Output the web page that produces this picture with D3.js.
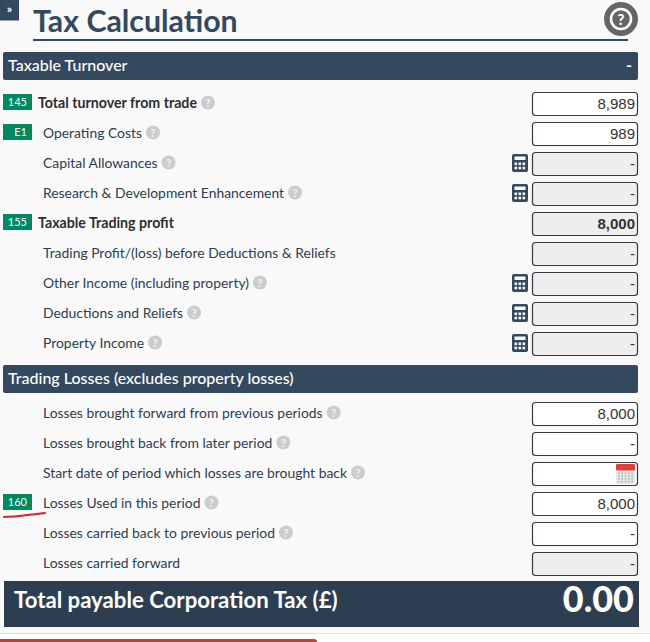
<!DOCTYPE html>
<html><head><meta charset="utf-8">
<script src="https://cdn.jsdelivr.net/npm/d3@7/dist/d3.min.js"></script>
<style>html,body{margin:0;padding:0;background:#fff;overflow:hidden}svg{display:block}text{font-family:Lato,sans-serif}</style>
</head><body><svg id="c" width="650" height="642"></svg>
<script>
const labels1=["Total turnover from trade","Operating Costs","Capital Allowances","Research & Development Enhancement","Taxable Trading profit","Trading Profit/(loss) before Deductions & Reliefs","Other Income (including property)","Deductions and Reliefs","Property Income"];
const codes1=["145","E1","","","155","","","",""];
const values1=["8,989","989","-","-","8,000","-","-","-","-"];
const disabled1=[0,0,1,1,1,1,1,1,1];
const bold1=[1,0,0,0,1,0,0,0,0];
const boldValue1=[0,0,0,0,1,0,0,0,0];
const help1=[1,1,1,1,0,0,1,1,1];
const calc1=[0,0,1,1,0,0,1,1,1];
const labels2=["Losses brought forward from previous periods","Losses brought back from later period","Start date of period which losses are brought back","Losses Used in this period","Losses carried back to previous period","Losses carried forward"];
const codes2=["","","","160","",""];
const values2=["8,000","-","","8,000","-","-"];
const disabled2=[0,0,0,0,0,1];
const help2=[1,1,1,1,1,0];
const total="0.00";

const svg=d3.select("#c");
const navy="#34495e",ink="#2c3e50";
svg.append("rect").attr("width",650).attr("height",633).attr("fill","#f9f9f9");
svg.append("rect").attr("y",633).attr("width",650).attr("height",1).attr("fill","#dfe1e6");

const rows1=labels1.map((l,i)=>({l,code:codes1[i],v:values1[i],dis:disabled1[i],bold:bold1[i],bv:boldValue1[i],help:help1[i],calc:calc1[i]}));
const rows2=labels2.map((l,i)=>({l,code:codes2[i],v:values2[i],dis:disabled2[i],bold:0,bv:0,help:help2[i],calc:0,date:i===2}));
const y1=d3.scalePoint().domain(d3.range(rows1.length)).range([103,343]);
const y2=d3.scalePoint().domain(d3.range(rows2.length)).range([413,563]);

svg.append("rect").attr("width",19).attr("height",20.5).attr("fill",navy);
svg.append("text").attr("x",9.5).attr("y",13).attr("text-anchor","middle").attr("fill","#fff").attr("font-size",12).attr("font-weight",700).text("»");
svg.append("text").attr("x",33).attr("y",32).attr("font-size",30.3).attr("font-weight",700).attr("fill",navy).text("Tax Calculation");
svg.append("rect").attr("x",33).attr("y",39).attr("width",595).attr("height",2).attr("fill",navy);
svg.append("circle").attr("cx",621).attr("cy",19).attr("r",17).attr("fill","#666");
svg.append("circle").attr("cx",621).attr("cy",19).attr("r",10).attr("fill","none").attr("stroke","#fff").attr("stroke-width",2.6);
svg.append("text").attr("x",621).attr("y",24.5).attr("text-anchor","middle").attr("fill","#fff").attr("font-size",15).attr("font-weight",900).text("?");

function header(y,h,t,right){
  svg.append("rect").attr("x",3).attr("y",y).attr("width",635).attr("height",h).attr("rx",2).attr("fill",navy);
  svg.append("text").attr("x",8).attr("y",y+19).attr("font-size",16).attr("font-weight",500).attr("fill","#fff").text(t);
  if(right) svg.append("text").attr("x",629).attr("y",y+19).attr("text-anchor","middle").attr("font-size",16).attr("font-weight",700).attr("fill","#fff").text(right);
}
header(52,28,"Taxable Turnover","-");
header(365,28,"Trading Losses (excludes property losses)","");

function calcIcon(g){
  g.append("rect").attr("x",512).attr("y",-9).attr("width",16).attr("height",18).attr("rx",2).attr("fill",navy);
  g.append("rect").attr("x",514.5).attr("y",-6.5).attr("width",11).attr("height",3.5).attr("fill","#f9f9f9");
  d3.range(6).forEach(i=>{
    g.append("rect").attr("x",514.5+(i%3)*4).attr("y",-0.5+Math.floor(i/3)*4.2).attr("width",2.6).attr("height",2.6).attr("fill","#f9f9f9");
  });
}
function dateIcon(g){
  g.append("rect").attr("x",616).attr("y",-8).attr("width",19).attr("height",19).attr("fill","#e6ebe8");
  g.append("rect").attr("x",616).attr("y",-9).attr("width",19).attr("height",6.5).attr("rx",1).attr("fill","#e0403c");
  d3.range(20).forEach(i=>{
    g.append("rect").attr("x",618+(i%5)*3.3).attr("y",-0.5+Math.floor(i/5)*2.8).attr("width",1.8).attr("height",1.6).attr("fill","#a9bcb6");
  });
}
function drawRows(rows,y){
  rows.forEach((d,i)=>{
    const g=svg.append("g").attr("transform",`translate(0,${y(i)})`);
    if(d.code){
      g.append("rect").attr("x",3).attr("y",-9).attr("width",29).attr("height",16).attr("fill","#00885f");
      g.append("text").attr("x",27).attr("y",3).attr("text-anchor","end").attr("font-size",11).attr("fill","#fff").text(d.code);
    }
    const lx=d.bold?38:43;
    const t=g.append("text").attr("x",lx).attr("y",5).attr("font-size",d.bold?14.2:13.9).attr("font-weight",d.bold?700:400).attr("fill",d.bold?"#2b2f33":ink).text(d.l);
    if(d.help){
      const w=t.node().getComputedTextLength();
      const cx=lx+w+11;
      g.append("circle").attr("cx",cx).attr("cy",-0.5).attr("r",7).attr("fill","#cccccc");
      g.append("text").attr("x",cx).attr("y",4).attr("text-anchor","middle").attr("font-size",11.5).attr("font-weight",700).attr("fill","#f4f4f4").text("?");
    }
    if(d.calc) calcIcon(g);
    g.append("rect").attr("x",532.5).attr("y",-10.5).attr("width",105).attr("height",23).attr("rx",3)
      .attr("fill",d.dis?"#eeeeee":"#fff").attr("stroke","#333b42").attr("stroke-width",1.2);
    if(d.date) dateIcon(g);
    if(d.v) g.append("text").attr("x",635).attr("y",6).attr("text-anchor","end")
      .style("font-family","'Liberation Sans',sans-serif").attr("font-size",15)
      .attr("font-weight",d.bv?700:400).attr("fill","#333").text(d.v);
  });
}
drawRows(rows1,y1);
drawRows(rows2,y2);

svg.append("path").attr("d",d3.line().curve(d3.curveBasis)([[4,517],[20,516],[45,513]])).attr("fill","none").attr("stroke","#d8232a").attr("stroke-width",2).attr("stroke-linecap","round");

svg.append("rect").attr("x",4).attr("y",581).attr("width",635).attr("height",46).attr("fill","#2c3e50");
svg.append("text").attr("x",14).attr("y",608).attr("font-size",22.2).attr("font-weight",700).attr("fill","#fff").text("Total payable Corporation Tax (£)");
svg.append("text").attr("x",634).attr("y",612).attr("text-anchor","end").attr("font-size",36).attr("font-weight",900).attr("fill","#fff").text(total);
svg.append("rect").attr("x",-4).attr("y",639).attr("width",321).attr("height",10).attr("rx",3).attr("fill","#b8423a");
</script></body></html>
